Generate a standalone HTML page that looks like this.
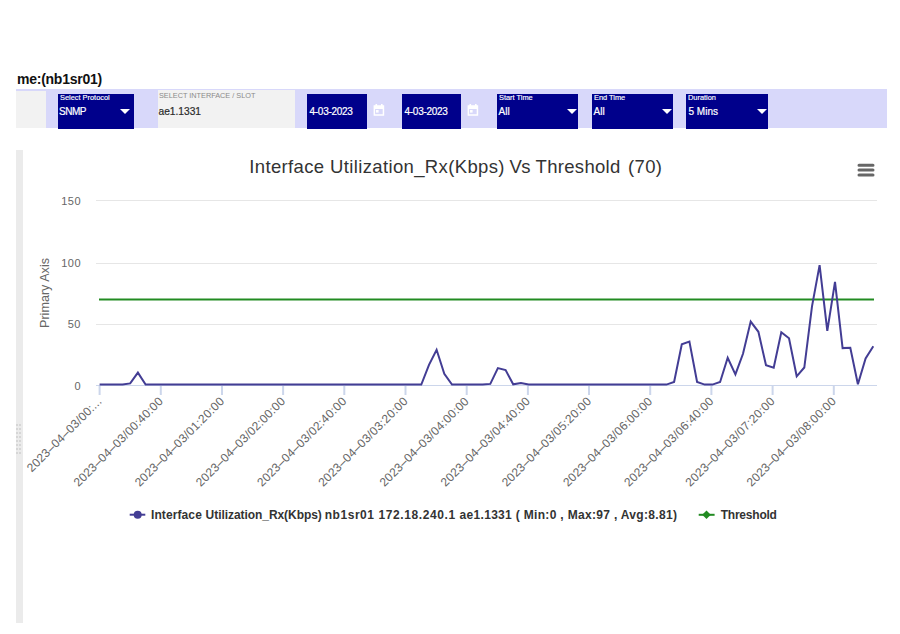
<!DOCTYPE html>
<html><head><meta charset="utf-8">
<style>
html,body{margin:0;padding:0;background:#fff;}
body{width:900px;height:634px;position:relative;overflow:hidden;font-family:"Liberation Sans",sans-serif;}
.a{position:absolute;}
.title{left:17px;top:71.3px;font-size:14px;letter-spacing:-0.25px;font-weight:bold;color:#111;white-space:nowrap;}
.bar{left:16px;top:89px;width:871px;height:39px;background:#d8d8fa;}
.gbox{background:#f2f2f2;}
.sel{background:#00008b;color:#fff;}
.lbl{position:absolute;font-size:7.4px;white-space:nowrap;left:2px;top:-0.7px;-webkit-text-stroke:0.15px currentColor;}
.val{position:absolute;font-size:10px;white-space:nowrap;left:1.5px;top:12px;-webkit-text-stroke:0.2px currentColor;}
.tri{position:absolute;width:0;height:0;border-left:5px solid transparent;border-right:5px solid transparent;border-top:5px solid #fff;top:15px;}
svg text{font-family:"Liberation Sans",sans-serif;}
</style></head><body>
<div class="a title">me:(nb1sr01)</div>
<div class="a bar"></div>
<div class="a gbox" style="left:16px;top:91px;width:30px;height:37px;"></div>
<div class="a sel" style="left:58px;top:94px;width:76px;height:35px;"><div class="lbl">Select Protocol</div><div class="val" style="left:1px;letter-spacing:-0.45px">SNMP</div><div class="tri" style="left:62px"></div></div>
<div class="a gbox" style="left:158px;top:90px;width:137px;height:38px;"><div class="lbl" style="color:#8a8a8a;font-size:7.3px;left:1px;top:0.5px;-webkit-text-stroke:0px">SELECT INTERFACE / SLOT</div><div class="val" style="color:#2a2a2a;font-size:10.2px;left:0.5px;top:15.5px">ae1.1331</div></div>
<div class="a sel" style="left:307px;top:94px;width:60px;height:35px;"><div class="val" style="left:2.5px;letter-spacing:-0.27px">4-03-2023</div></div>
<svg class="a" style="left:373px;top:103px" width="12" height="14" viewBox="0 0 12 14"><path d="M0.6 2.2h10.6v10.6h-10.6z M2.1 6h7.6v5.3h-7.6z" fill="#ffffff" fill-rule="evenodd"/><rect x="2.5" y="1" width="1.6" height="2" fill="#ffffff"/><rect x="8" y="1" width="1.6" height="2" fill="#ffffff"/><rect x="3" y="7" width="2.6" height="2.6" fill="#ffffff"/></svg>
<div class="a sel" style="left:402px;top:94px;width:59px;height:35px;"><div class="val" style="left:2.5px;letter-spacing:-0.27px">4-03-2023</div></div>
<svg class="a" style="left:467px;top:103px" width="12" height="14" viewBox="0 0 12 14"><path d="M0.6 2.2h10.6v10.6h-10.6z M2.1 6h7.6v5.3h-7.6z" fill="#ffffff" fill-rule="evenodd"/><rect x="2.5" y="1" width="1.6" height="2" fill="#ffffff"/><rect x="8" y="1" width="1.6" height="2" fill="#ffffff"/><rect x="3" y="7" width="2.6" height="2.6" fill="#ffffff"/></svg>
<div class="a sel" style="left:497px;top:94px;width:81px;height:35px;"><div class="lbl">Start Time</div><div class="val">All</div><div class="tri" style="left:70px"></div></div>
<div class="a sel" style="left:592px;top:94px;width:81px;height:35px;"><div class="lbl">End Time</div><div class="val">All</div><div class="tri" style="left:70px"></div></div>
<div class="a sel" style="left:686px;top:94px;width:82px;height:35px;"><div class="lbl">Duration</div><div class="val" style="left:2.5px">5 Mins</div><div class="tri" style="left:71px"></div></div>
<div class="a" style="left:16px;top:150px;width:7px;height:473px;background:#ebebeb;"></div><div class="a" style="left:16px;top:424px;width:2px;height:2px;background:#d6d6d6"></div><div class="a" style="left:19px;top:424px;width:2px;height:2px;background:#d6d6d6"></div><div class="a" style="left:16px;top:428px;width:2px;height:2px;background:#d6d6d6"></div><div class="a" style="left:19px;top:428px;width:2px;height:2px;background:#d6d6d6"></div><div class="a" style="left:16px;top:432px;width:2px;height:2px;background:#d6d6d6"></div><div class="a" style="left:19px;top:432px;width:2px;height:2px;background:#d6d6d6"></div><div class="a" style="left:16px;top:436px;width:2px;height:2px;background:#d6d6d6"></div><div class="a" style="left:19px;top:436px;width:2px;height:2px;background:#d6d6d6"></div><div class="a" style="left:16px;top:440px;width:2px;height:2px;background:#d6d6d6"></div><div class="a" style="left:19px;top:440px;width:2px;height:2px;background:#d6d6d6"></div><div class="a" style="left:16px;top:444px;width:2px;height:2px;background:#d6d6d6"></div><div class="a" style="left:19px;top:444px;width:2px;height:2px;background:#d6d6d6"></div><div class="a" style="left:16px;top:448px;width:2px;height:2px;background:#d6d6d6"></div><div class="a" style="left:19px;top:448px;width:2px;height:2px;background:#d6d6d6"></div><div class="a" style="left:16px;top:452px;width:2px;height:2px;background:#d6d6d6"></div><div class="a" style="left:19px;top:452px;width:2px;height:2px;background:#d6d6d6"></div>
<svg class="a" style="left:0;top:0" width="900" height="634">
<text y="173" font-size="18.5" letter-spacing="0.3" fill="#333"><tspan x="249.3" letter-spacing="0.36">Interface Utilization_Rx(Kbps)</tspan><tspan x="509.4" letter-spacing="-0.4">Vs</tspan><tspan x="535.6">Threshold</tspan><tspan x="628" letter-spacing="0.35">(70)</tspan></text>
<g stroke="#666" stroke-width="3" stroke-linecap="round"><path d="M859 165.2H873M859 170.1H873M859 175.1H873"/></g>
<g stroke="#e6e6e6" stroke-width="1"><path d="M96 200.5H877M96 263.5H877M96 324.5H877"/></g>
<path d="M96 385.5H877" stroke="#ccd6eb" stroke-width="1"/>
<path d="M 99.6 385.5 V 395" stroke="#ccd6eb" stroke-width="2"/><path d="M 160.8 385.5 V 395" stroke="#ccd6eb" stroke-width="2"/><path d="M 222.0 385.5 V 395" stroke="#ccd6eb" stroke-width="2"/><path d="M 283.1 385.5 V 395" stroke="#ccd6eb" stroke-width="2"/><path d="M 344.3 385.5 V 395" stroke="#ccd6eb" stroke-width="2"/><path d="M 405.5 385.5 V 395" stroke="#ccd6eb" stroke-width="2"/><path d="M 466.7 385.5 V 395" stroke="#ccd6eb" stroke-width="2"/><path d="M 527.9 385.5 V 395" stroke="#ccd6eb" stroke-width="2"/><path d="M 589.0 385.5 V 395" stroke="#ccd6eb" stroke-width="2"/><path d="M 650.2 385.5 V 395" stroke="#ccd6eb" stroke-width="2"/><path d="M 711.4 385.5 V 395" stroke="#ccd6eb" stroke-width="2"/><path d="M 772.6 385.5 V 395" stroke="#ccd6eb" stroke-width="2"/><path d="M 833.8 385.5 V 395" stroke="#ccd6eb" stroke-width="2"/>
<g font-size="11" fill="#666" text-anchor="end" letter-spacing="0.5"><text x="81" y="205">150</text><text x="81" y="267">100</text><text x="81" y="328">50</text><text x="81" y="390">0</text></g>
<text x="0" y="0" font-size="12.6" fill="#666" text-anchor="middle" transform="translate(48.5 293) rotate(-90)">Primary Axis</text>
<path d="M99 299.5H874" stroke="#228b22" stroke-width="2"/>
<path d="M 99.6 384.6 L 107.3 384.6 L 114.9 384.6 L 122.6 384.6 L 130.2 383.4 L 137.9 372.6 L 145.6 384.6 L 153.2 384.6 L 160.9 384.6 L 168.5 384.6 L 176.2 384.6 L 183.9 384.6 L 191.5 384.6 L 199.2 384.6 L 206.8 384.6 L 214.5 384.6 L 222.2 384.6 L 229.8 384.6 L 237.5 384.6 L 245.1 384.6 L 252.8 384.6 L 260.5 384.6 L 268.1 384.6 L 275.8 384.6 L 283.4 384.6 L 291.1 384.6 L 298.8 384.6 L 306.4 384.6 L 314.1 384.6 L 321.7 384.6 L 329.4 384.6 L 337.1 384.6 L 344.7 384.6 L 352.4 384.6 L 360.0 384.6 L 367.7 384.6 L 375.4 384.6 L 383.0 384.6 L 390.7 384.6 L 398.3 384.6 L 406.0 384.6 L 413.7 384.6 L 421.3 384.6 L 429.0 364.9 L 436.6 349.8 L 444.3 373.9 L 452.0 384.6 L 459.6 384.6 L 467.3 384.6 L 474.9 384.6 L 482.6 384.6 L 490.3 383.9 L 497.9 368.1 L 505.6 370.1 L 513.2 384.3 L 520.9 382.9 L 528.6 384.6 L 536.2 384.6 L 543.9 384.6 L 551.5 384.6 L 559.2 384.6 L 566.9 384.6 L 574.5 384.6 L 582.2 384.6 L 589.8 384.6 L 597.5 384.6 L 605.2 384.6 L 612.8 384.6 L 620.5 384.6 L 628.1 384.6 L 635.8 384.6 L 643.5 384.6 L 651.1 384.6 L 658.8 384.6 L 666.4 384.6 L 674.1 382.0 L 681.8 344.2 L 689.4 341.6 L 697.1 382.0 L 704.7 384.6 L 712.4 384.6 L 720.1 382.0 L 727.7 357.8 L 735.4 374.3 L 743.0 353.8 L 750.7 321.6 L 758.4 331.8 L 766.0 365.3 L 773.7 367.7 L 781.3 332.3 L 789.0 338.3 L 796.7 376.3 L 804.3 367.5 L 812.0 306.3 L 819.6 265.1 L 827.3 330.8 L 835.0 281.8 L 842.6 348.1 L 850.3 347.8 L 857.9 384.3 L 865.6 358.5 L 873.3 346.3" fill="none" stroke="#433d94" stroke-width="2" stroke-linejoin="miter"/>
<g font-size="12" fill="#666" letter-spacing="0.2"><text x="102.6" y="402.0" text-anchor="end" transform="rotate(-45 102.6 402.0)">2023–04–03/00:...</text><text x="163.8" y="402.0" text-anchor="end" transform="rotate(-45 163.8 402.0)">2023–04–03/00:40:00</text><text x="225.0" y="402.0" text-anchor="end" transform="rotate(-45 225.0 402.0)">2023–04–03/01:20:00</text><text x="286.1" y="402.0" text-anchor="end" transform="rotate(-45 286.1 402.0)">2023–04–03/02:00:00</text><text x="347.3" y="402.0" text-anchor="end" transform="rotate(-45 347.3 402.0)">2023–04–03/02:40:00</text><text x="408.5" y="402.0" text-anchor="end" transform="rotate(-45 408.5 402.0)">2023–04–03/03:20:00</text><text x="469.7" y="402.0" text-anchor="end" transform="rotate(-45 469.7 402.0)">2023–04–03/04:00:00</text><text x="530.9" y="402.0" text-anchor="end" transform="rotate(-45 530.9 402.0)">2023–04–03/04:40:00</text><text x="592.0" y="402.0" text-anchor="end" transform="rotate(-45 592.0 402.0)">2023–04–03/05:20:00</text><text x="653.2" y="402.0" text-anchor="end" transform="rotate(-45 653.2 402.0)">2023–04–03/06:00:00</text><text x="714.4" y="402.0" text-anchor="end" transform="rotate(-45 714.4 402.0)">2023–04–03/06:40:00</text><text x="775.6" y="402.0" text-anchor="end" transform="rotate(-45 775.6 402.0)">2023–04–03/07:20:00</text><text x="836.8" y="402.0" text-anchor="end" transform="rotate(-45 836.8 402.0)">2023–04–03/08:00:00</text></g>
<path d="M129.7 514.7H145.3" stroke="#433d94" stroke-width="2"/><circle cx="137.7" cy="514.7" r="4" fill="#433d94"/>
<text y="519" font-size="12" font-weight="bold" letter-spacing="0.27" fill="#333"><tspan x="151" letter-spacing="0.1">Interface</tspan><tspan x="205.6" letter-spacing="-0.06">Utilization_Rx(Kbps)</tspan><tspan x="324.7" letter-spacing="0.55">nb1sr01</tspan><tspan x="378.4" letter-spacing="0.6">172.18.240.1</tspan><tspan x="459.5" letter-spacing="0.32">ae1.1331 ( Min:0 , Max:97 , Avg:8.81)</tspan></text>
<path d="M698.7 514.8H714.6" stroke="#228b22" stroke-width="2"/><path d="M706.5 510.5L710.8 514.8L706.5 519.1L702.2 514.8Z" fill="#228b22"/>
<text x="720.7" y="519" font-size="12" font-weight="bold" letter-spacing="-0.22" fill="#333">Threshold</text>
</svg>
</body></html>
